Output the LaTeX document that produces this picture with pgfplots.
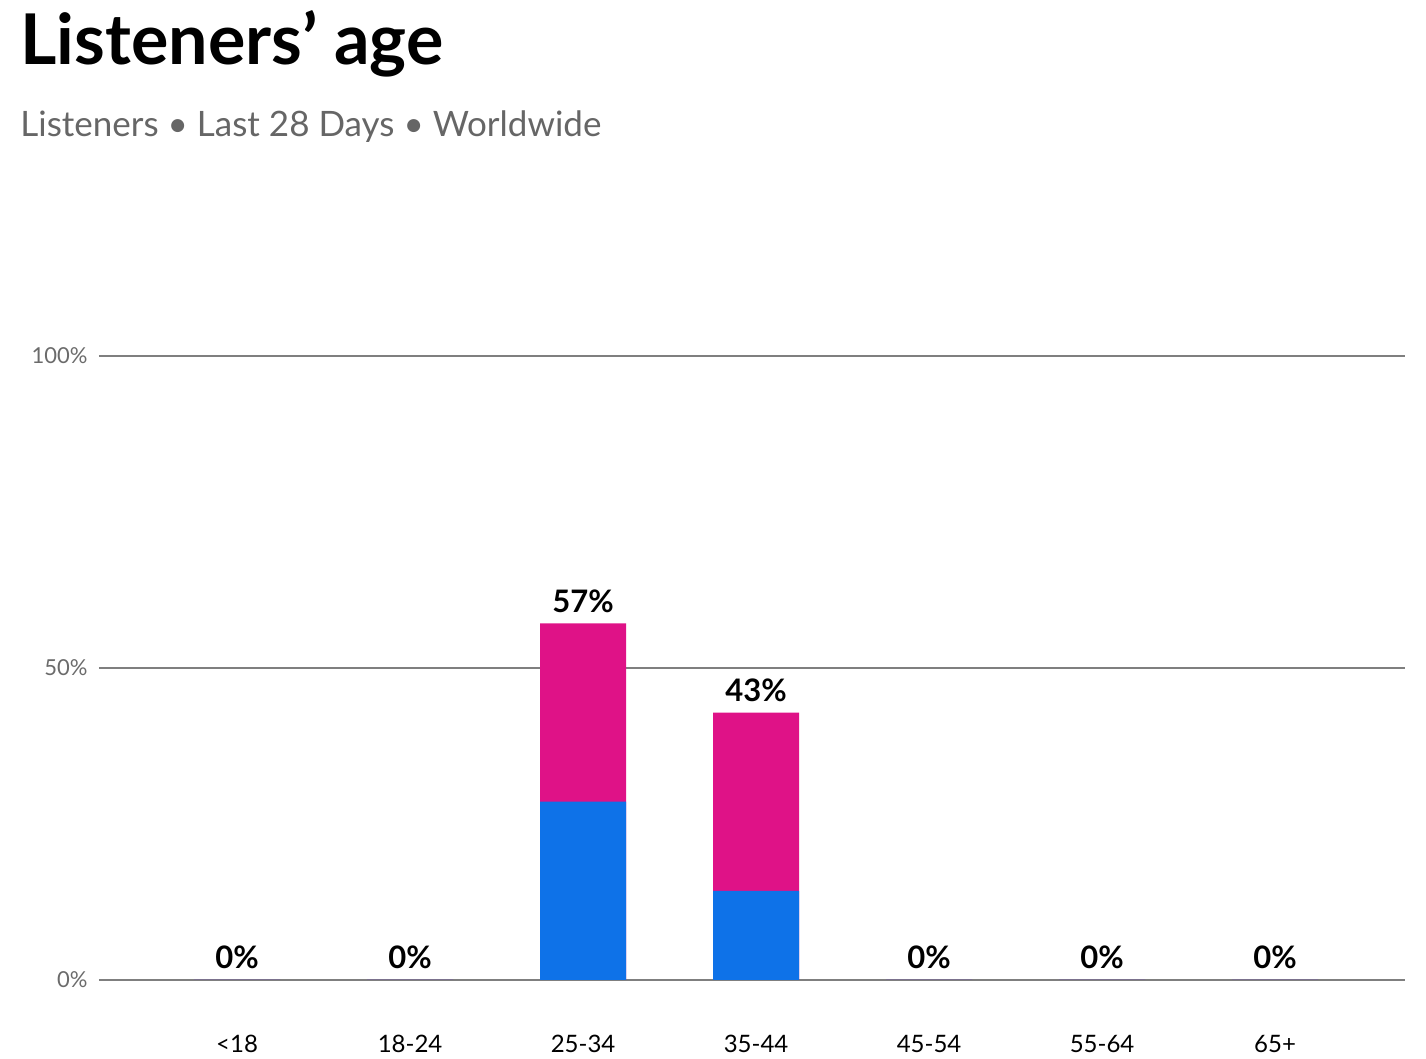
\documentclass[border=0pt]{standalone}
\usepackage{fontspec}
\setmainfont{Lato}
\usepackage{pgfplots}
\pgfplotsset{compat=1.18}
\usepackage{pgfplotstable}

\definecolor{femblue}{HTML}{0E72E8}
\definecolor{fempink}{HTML}{DF1287}
\definecolor{gridgray}{HTML}{7F7F7F}
\definecolor{ticktext}{HTML}{6B6B6B}
\definecolor{subtext}{HTML}{666666}

% age groups: x position, blue part, whole bar (blue + pink)
\pgfplotstableread{
x  blue   total
0  0      0
1  0      0
2  28.57  57.14
3  14.29  42.86
4  0      0
5  0      0
6  0      0
}\agedata

\begin{document}
\begin{tikzpicture}
\useasboundingbox (-49.5pt,-39.5pt) rectangle (663.5pt,490pt);
\begin{axis}[
    scale only axis,
    width=653pt, height=312pt,
    ybar, bar shift=0pt,
    bar width=43pt,
    xmin=-0.798, xmax=6.751,
    ymin=0, ymax=100,
    xtick={0,...,6},
    xticklabels={<18,18-24,25-34,35-44,45-54,55-64,65+},
    ytick={0,50,100},
    yticklabel={\pgfmathprintnumber{\tick}\%},
    /pgf/number format/assume math mode=true,
    axis line style={draw=none},
    major tick length=0pt,
    ymajorgrids,
    major grid style={color=gridgray, line width=1pt},
    xticklabel style={font=\fontsize{12}{14}\selectfont, text=black,
        anchor=base, inner sep=0pt, yshift=-36.3pt},
    yticklabel style={font=\fontsize{11}{13}\selectfont, text=ticktext,
        anchor=east, inner sep=0pt, xshift=-5.5pt},
    clip=false,
]
% pink bar is the whole height, blue part drawn over its lower end
\addplot[draw=none, fill=fempink,
    nodes near coords={\pgfmathprintnumber[fixed,precision=0]{\pgfplotspointmeta}\%},
    every node near coord/.style={font=\bfseries\fontsize{15.5}{17}\selectfont,
        text=black, anchor=base, inner sep=0pt, yshift=5.5pt}]
    table[x=x, y=total] {\agedata};
\addplot[draw=none, fill=femblue] table[x=x, y=blue] {\agedata};
\end{axis}
\node[anchor=base west, inner sep=0pt, font=\bfseries\fontsize{35}{40}\selectfont]
    at (-39.5pt,457.5pt) {Listeners’ age};
\node[anchor=base west, inner sep=0pt, text=subtext, font=\fontsize{17.5}{21}\selectfont]
    at (-39.5pt,421.5pt) {Listeners • Last 28 Days • Worldwide};
\end{tikzpicture}
\end{document}
